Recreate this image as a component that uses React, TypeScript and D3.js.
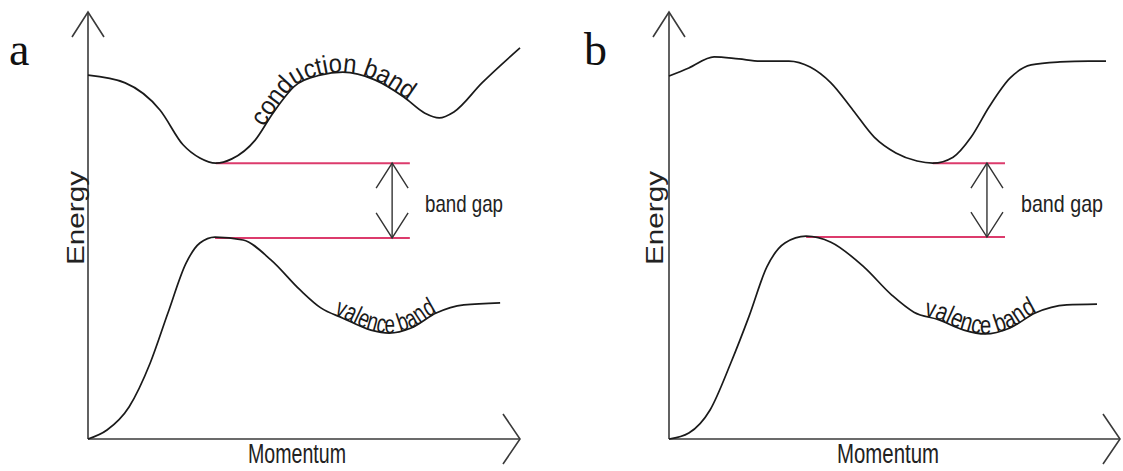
import React, { useEffect, useRef } from "react";
import * as d3 from "d3";

type P = [number, number];

// Momentum (0-100) vs Energy (0-100)
const conductionA: P[] = [
  [0, 85.2], [8.6, 83.4], [16.7, 77.0], [22.0, 68.9], [25.9, 65.8], [29.6, 64.6],
  [33.3, 65.6], [38.7, 70.0], [42.8, 76.3], [47.9, 82.7], [53.7, 85.2], [59.0, 85.9],
  [66.4, 84.1], [73.1, 80.1], [78.0, 76.3], [81.3, 75.2], [84.7, 76.6], [91.2, 83.4], [100, 91.6],
];
const valenceA: P[] = [
  [0, 0], [4.4, 2.1], [9.5, 7.5], [14.4, 17.8], [18.5, 29.5], [22.7, 41.2], [25.9, 45.9],
  [29.4, 47.3], [35.9, 46.6], [42.4, 41.9], [49.1, 34.9], [53.9, 30.7], [59.0, 28.3],
  [65.5, 25.5], [69.7, 24.8], [74.8, 26.0], [80.6, 29.5], [87.0, 31.4], [95.4, 31.9],
];
const conductionB: P[] = [
  [0, 85.0], [4.4, 86.9], [10.0, 89.5], [15.5, 89.0], [20.2, 88.5], [26.6, 88.5], [31.3, 87.1],
  [35.9, 83.4], [40.8, 77.0], [45.5, 70.7], [50.3, 67.0], [55.0, 65.1], [58.5, 64.6],
  [63.0, 66.0], [67.0, 70.7], [71.0, 77.8], [75.6, 84.5], [80.3, 87.6], [86.7, 88.3],
  [93.1, 88.5], [96.9, 88.5],
];
const valenceB: P[] = [
  [0, 0], [4.4, 1.4], [9.1, 6.8], [13.7, 17.8], [17.7, 28.6], [21.7, 40.3], [25.7, 45.9],
  [30.4, 47.5], [35.9, 46.1], [43.2, 40.3], [49.4, 33.7], [54.3, 29.7], [59.9, 27.9],
  [65.4, 25.5], [70.1, 24.6], [75.6, 26.0], [81.2, 29.5], [88.2, 31.4], [94.9, 31.6],
];

// gap lines: [momentum start, momentum end, energy]
const gapLinesA: [number, number, number][] = [[29.6, 74.5, 64.6], [29.4, 74.5, 47.1]];
const gapLinesB: [number, number, number][] = [[58.5, 74.5, 64.6], [30.4, 74.5, 47.3]];
const gapArrowA = 70.4;
const gapArrowB = 70.5;

// label spans along the curves (momentum from, to)
const condLabelSpanA: P = [40.7, 74.1];
const valLabelSpanA: P = [56.9, 80.8];
const valLabelSpanB: P = [56.5, 81.6];

const panelLetters = ["a", "b"];
const axisTitles = ["Energy", "Momentum"];
const bandTitles = ["conduction band", "valence band"];
const gapTitle = "band gap";

const W = 1123;
const H = 471;

const panels = [
  {
    id: "a", letter: panelLetters[0], x0: 88, x1: 520, cond: conductionA, val: valenceA,
    gaps: gapLinesA, arrow: gapArrowA, condSpan: condLabelSpanA as P | null, valSpan: valLabelSpanA,
    letterX: 9, gapTextX: 425, gapTextLen: 78, momX: 248, momLen: 98, enX: 84,
  },
  {
    id: "b", letter: panelLetters[1], x0: 669, x1: 1120, cond: conductionB, val: valenceB,
    gaps: gapLinesB, arrow: gapArrowB, condSpan: null as P | null, valSpan: valLabelSpanB,
    letterX: 584, gapTextX: 1021, gapTextLen: 82, momX: 837, momLen: 102, enX: 663,
  },
];

const SANS = "'Liberation Sans Narrow', 'Liberation Sans', Arial, sans-serif";

export default function App() {
  const ref = useRef<SVGSVGElement | null>(null);

  useEffect(() => {
    const svg = d3.select(ref.current);
    svg.selectAll("*").remove();
    svg.append("rect").attr("width", W).attr("height", H).attr("fill", "#ffffff");

    const y = d3.scaleLinear().domain([0, 100]).range([439, 12]);

    panels.forEach((p) => {
      const x = d3.scaleLinear().domain([0, 100]).range([p.x0, p.x1]);
      const g = svg.append("g");
      const line = d3.line<P>().x((d) => x(d[0])).y((d) => y(d[1])).curve(d3.curveMonotoneX);
      const seg = d3.line<P>().x((d) => d[0]).y((d) => d[1]);

      // axes
      const ox = x(0), oy = y(0), ty = y(100), tx = x(100);
      const axisStyle = (s: any) => s.attr("fill", "none").attr("stroke", "#3a3a3a").attr("stroke-width", 1.6);
      g.append("path").attr("d", seg([[ox, oy], [ox, ty]])).call(axisStyle);
      g.append("path").attr("d", seg([[ox - 16, ty + 25], [ox, ty], [ox + 16, ty + 25]])).call(axisStyle);
      g.append("path").attr("d", seg([[ox, oy], [tx, oy]])).call(axisStyle);
      g.append("path").attr("d", seg([[tx - 17, oy - 25], [tx, oy], [tx - 17, oy + 25]])).call(axisStyle);

      // gap lines
      p.gaps.forEach((gl) => {
        g.append("path")
          .attr("d", seg([[x(gl[0]), y(gl[2])], [x(gl[1]), y(gl[2])]]))
          .attr("stroke", "#dc3b6c").attr("stroke-width", 2).attr("fill", "none");
      });

      // curves
      const condPath = g.append("path").attr("id", `cond-${p.id}`).attr("d", line(p.cond))
        .attr("fill", "none").attr("stroke", "#1a1a1a").attr("stroke-width", 1.7);
      const valPath = g.append("path").attr("id", `val-${p.id}`).attr("d", line(p.val))
        .attr("fill", "none").attr("stroke", "#1a1a1a").attr("stroke-width", 1.7);

      // double arrow
      const ax = x(p.arrow);
      const yTop = y(p.gaps[0][2]);
      const yBot = y(p.gaps[1][2]);
      const arrStyle = (s: any) => s.attr("fill", "none").attr("stroke", "#333").attr("stroke-width", 1.4);
      g.append("path").attr("d", seg([[ax, yTop], [ax, yBot]])).call(arrStyle);
      g.append("path").attr("d", seg([[ax - 16, yTop + 25], [ax, yTop], [ax + 16, yTop + 25]])).call(arrStyle);
      g.append("path").attr("d", seg([[ax - 16, yBot - 25], [ax, yBot], [ax + 16, yBot - 25]])).call(arrStyle);

      // band gap text
      g.append("text").attr("x", p.gapTextX).attr("y", 212).text(gapTitle)
        .attr("font-family", SANS).attr("font-size", 24).attr("fill", "#222")
        .attr("textLength", p.gapTextLen).attr("lengthAdjust", "spacingAndGlyphs");

      // axis titles
      g.append("text").attr("x", p.momX).attr("y", 463).text(axisTitles[1])
        .attr("font-family", SANS).attr("font-size", 27).attr("fill", "#222")
        .attr("textLength", p.momLen).attr("lengthAdjust", "spacingAndGlyphs");
      g.append("text").attr("transform", `translate(${p.enX},265) rotate(-90)`).text(axisTitles[0])
        .attr("font-family", SANS).attr("font-size", 23).attr("fill", "#222")
        .attr("textLength", 94).attr("lengthAdjust", "spacingAndGlyphs");

      // panel letter
      g.append("text").attr("x", p.letterX).attr("y", 65).text(p.letter)
        .attr("font-family", "'Liberation Serif', 'Times New Roman', serif").attr("font-size", 46).attr("fill", "#111");

      // curve labels
      const lenAtX = (node: SVGPathElement, xt: number) => {
        let lo = 0, hi = node.getTotalLength();
        for (let i = 0; i < 40; i++) {
          const mid = (lo + hi) / 2;
          if (node.getPointAtLength(mid).x < xt) lo = mid; else hi = mid;
        }
        return (lo + hi) / 2;
      };
      const addLabel = (pathSel: any, id: string, span: P, label: string) => {
        const node = pathSel.node() as SVGPathElement;
        const l0 = lenAtX(node, x(span[0]));
        const l1 = lenAtX(node, x(span[1]));
        g.append("text").attr("font-family", SANS).attr("font-size", 26).attr("fill", "#1a1a1a")
          .append("textPath").attr("href", `#${id}`).attr("startOffset", l0)
          .attr("textLength", l1 - l0).attr("lengthAdjust", "spacingAndGlyphs").text(label);
      };
      if (p.condSpan) addLabel(condPath, `cond-${p.id}`, p.condSpan, bandTitles[0]);
      addLabel(valPath, `val-${p.id}`, p.valSpan, bandTitles[1]);
    });
  }, []);

  return (
    <div style={{ position: "absolute", left: 0, top: 0 }}>
      <svg ref={ref} width={W} height={H} style={{ display: "block" }} />
    </div>
  );
}
